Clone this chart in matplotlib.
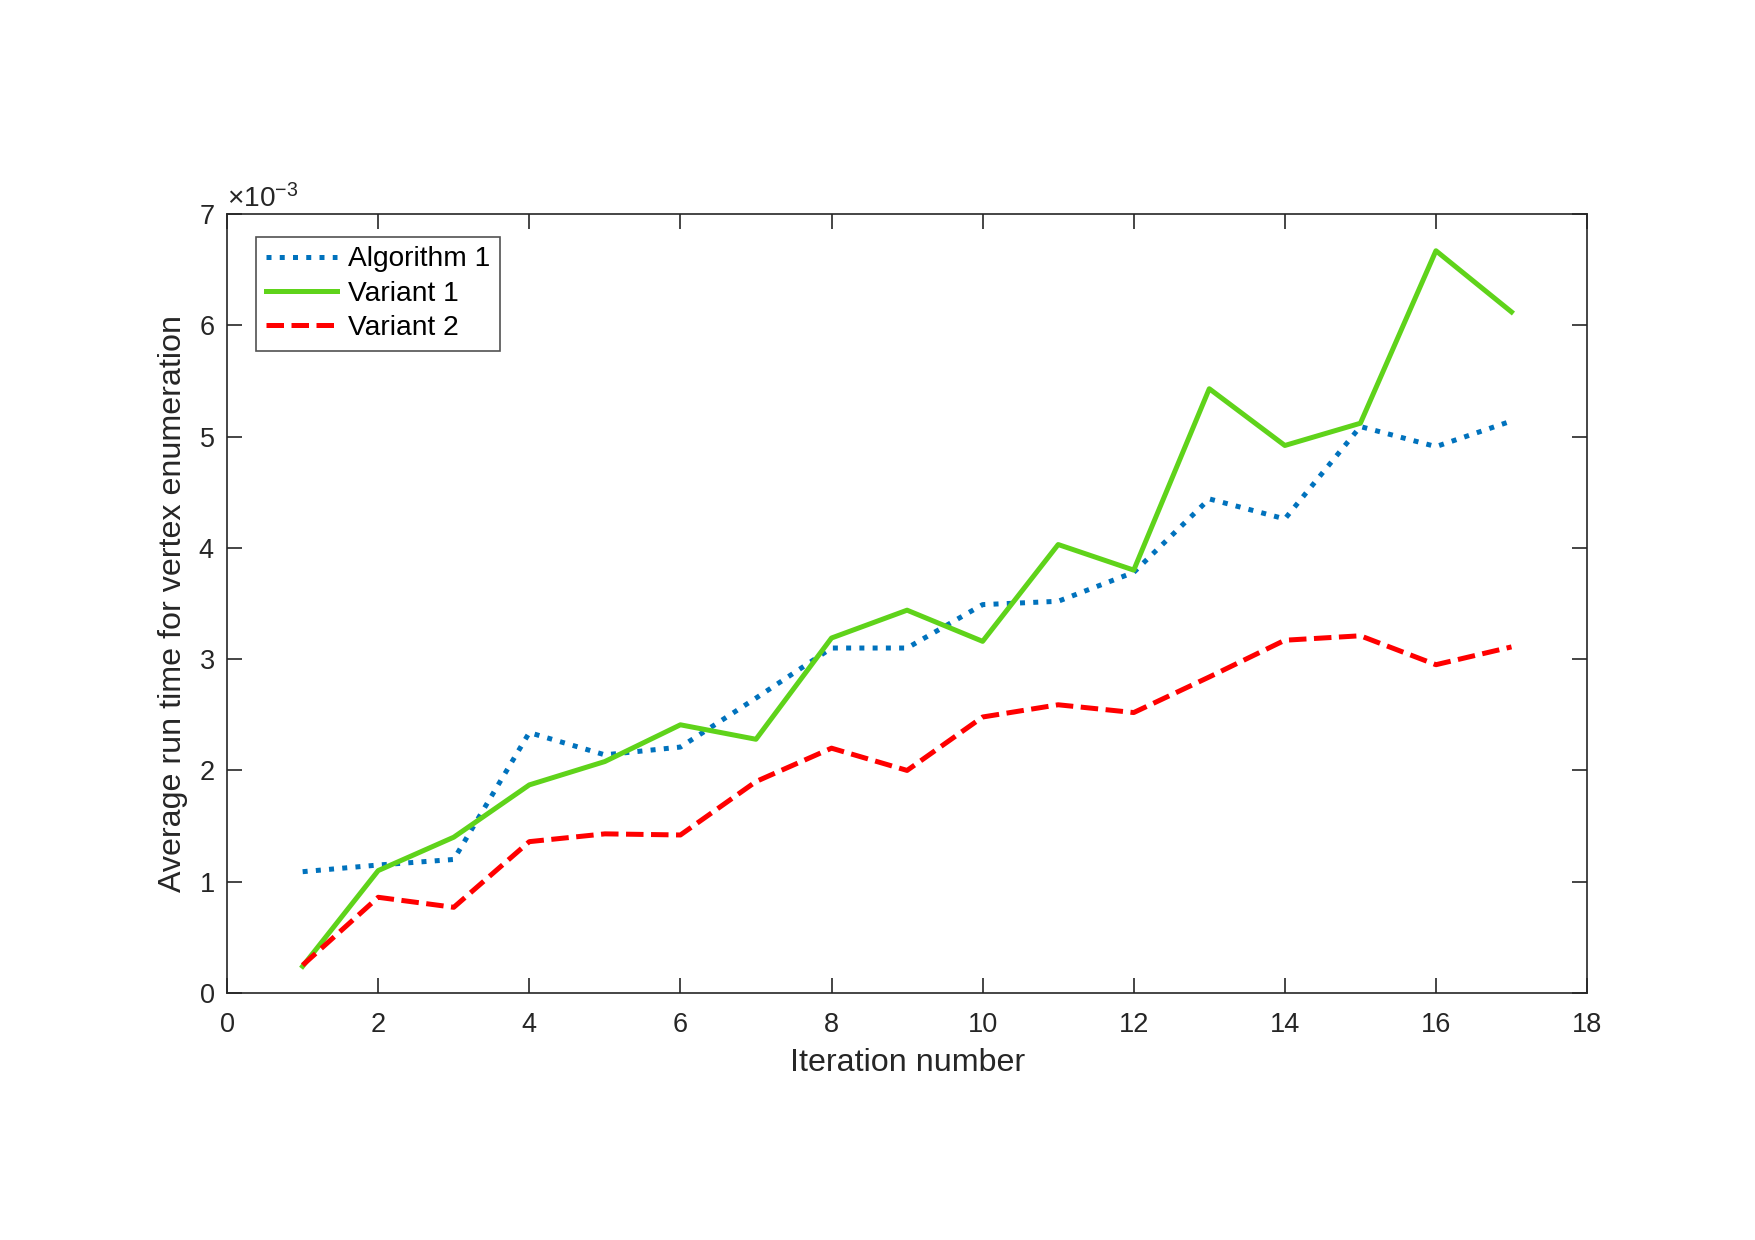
import matplotlib
matplotlib.use("Agg")
import matplotlib.pyplot as plt
from matplotlib.ticker import ScalarFormatter
import numpy as np

plt.rcParams["font.family"] = ["Liberation Sans", "DejaVu Sans"]
plt.rcParams["mathtext.fontset"] = "custom"
plt.rcParams["mathtext.rm"] = "Liberation Sans"

# ── data (in units of 1e-3 s) ────────────────────────────────────────────────
iterations = np.arange(1, 18)
algorithm_1 = [1.09, 1.15, 1.20, 2.34, 2.14, 2.21, 2.65, 3.10, 3.10,
               3.49, 3.52, 3.78, 4.44, 4.26, 5.09, 4.91, 5.14]
variant_1 = [0.24, 1.10, 1.40, 1.87, 2.08, 2.41, 2.28, 3.19, 3.44,
             3.16, 4.03, 3.80, 5.43, 4.92, 5.12, 6.67, 6.12]
variant_2 = [0.25, 0.86, 0.77, 1.36, 1.43, 1.42, 1.90, 2.20, 2.00,
             2.48, 2.59, 2.52, 2.84, 3.17, 3.21, 2.95, 3.11]

scale = 1e-3

fig = plt.figure(figsize=(11.7, 8.2667), dpi=150)
ax = fig.add_axes([0.1294, 0.1992, 0.7749, 0.6282])

ax.plot(iterations, np.array(algorithm_1) * scale, ":", color="#0072BD",
        lw=2.4, label="Algorithm 1")
ax.plot(iterations, np.array(variant_1) * scale, "-", color="#5FD31A",
        lw=2.4, label="Variant 1")
ax.plot(iterations, np.array(variant_2) * scale, "--", color="#FF0000",
        lw=2.4, dashes=(3.5, 1.5), label="Variant 2")

ax.set_xlim(0, 18)
ax.set_ylim(0, 7 * scale)
ax.set_xticks(np.arange(0, 19, 2))
ax.set_yticks(np.arange(0, 8) * scale)

fmt = ScalarFormatter(useMathText=True)
fmt.set_powerlimits((-2, 2))
ax.yaxis.set_major_formatter(fmt)
ax.yaxis.get_offset_text().set_fontsize(13.5)

ax.tick_params(direction="in", top=True, right=True, length=7, width=0.8,
               labelsize=13, colors="#262626")
ax.tick_params(axis="x", pad=9)
ax.tick_params(axis="y", pad=6)
for sp in ax.spines.values():
    sp.set_color("#262626")
    sp.set_linewidth(0.8)

ax.set_xlabel("Iteration number", fontsize=15.5, color="#262626", labelpad=5)
ax.set_ylabel("Average run time for vertex enumeration", fontsize=15.5,
              color="#262626", labelpad=5)

leg = ax.legend(loc="upper left", fontsize=13.5, frameon=True, fancybox=False,
                edgecolor="#262626", handlelength=2.5, borderaxespad=0.8,
                bbox_to_anchor=(0.005, 1.0),
                labelspacing=0.3, borderpad=0.35, handletextpad=0.4)
leg.get_frame().set_linewidth(0.8)

fig.savefig("out.png", dpi=150)
